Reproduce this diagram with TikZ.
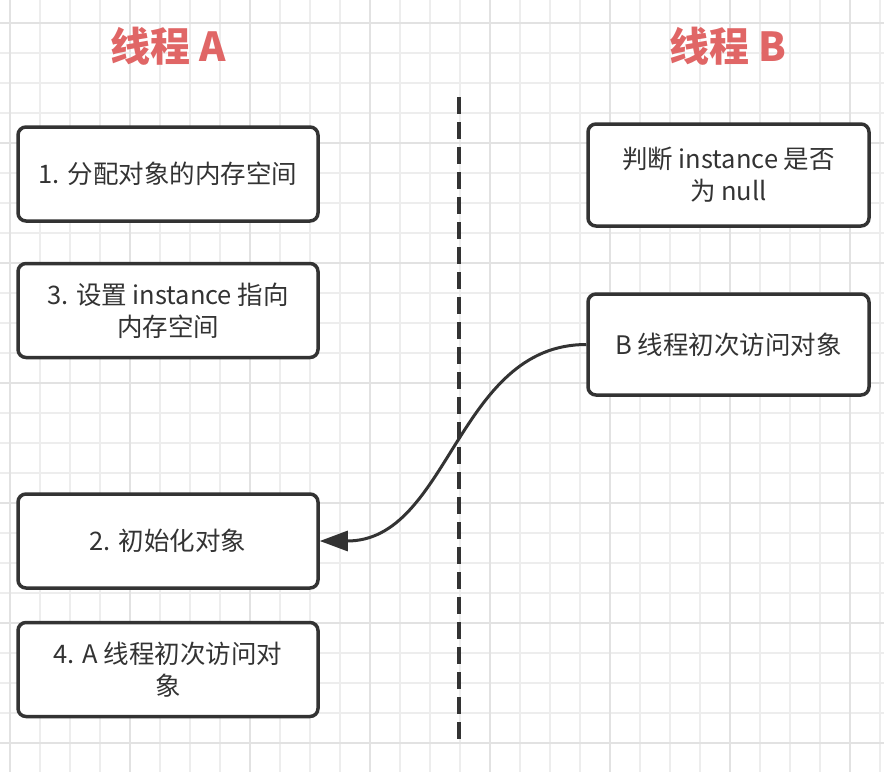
\documentclass[tikz,border=0pt]{standalone}
\usepackage{fontspec}
\setmainfont{Noto Sans CJK SC}
\usepackage{tikz}
\usetikzlibrary{arrows.meta,positioning}

\definecolor{inkgray}{HTML}{333333}
\definecolor{titlered}{HTML}{E06666}
\definecolor{gridminor}{HTML}{EDEDED}
\definecolor{gridmajor}{HTML}{E2E2E2}

\begin{document}
\begin{tikzpicture}[x=1pt, y=-1pt, node distance={560pt},
    main/.style = {draw=inkgray, line width=3.5pt, rounded corners=8pt, fill=white,
        minimum width=300pt, minimum height=94pt, align=center, text=inkgray,
        font=\fontsize{25.5}{32}\selectfont},
    title/.style = {text=titlered, font=\fontsize{40}{42}\selectfont\bfseries}]
            \useasboundingbox (0,0) rectangle (884,772);
            \fill[white] (0,0) rectangle (884,772);
            % background grid
            \foreach \gx in {10,40,...,880}
                \draw[gridminor, line width=1.5pt] (\gx,0) -- (\gx,772);
            \foreach \gy in {23,53,...,772}
                \draw[gridminor, line width=1.5pt] (0,\gy) -- (884,\gy);
            \foreach \gx in {10,130,...,880}
                \draw[gridmajor, line width=1.5pt] (\gx,0) -- (\gx,772);
            \foreach \gy in {23,143,...,772}
                \draw[gridmajor, line width=1.5pt] (0,\gy) -- (884,\gy);

            \node[title] (TA) at (168,46) {线程 A};
            \node[title] (TB) [right of=TA] {线程 B};
            \coordinate (D1) at (459,97);
            \coordinate (D2) at (459,745);
            \draw[inkgray, line width=3.5pt, dash pattern=on 17pt off 8pt] (D1) -- (D2);

            \node[main] (A1) at (168,174) {1. 分配对象的内存空间};
            \node[main] (A3) at (168,310.5) {3. 设置 instance 指向\\内存空间};
            \node[main] (A2) at (168,541) {2. 初始化对象};
            \node[main] (A4) at (168,669.5) {4. A 线程初次访问对\\象};
            \node[main, minimum width=281pt, minimum height=102pt] (B1) at (728.5,175) {判断 instance 是否\\为 null};
            \node[main, minimum width=281pt, minimum height=101pt] (B2) at (728.5,344.5) {B 线程初次访问对象};

            \draw[inkgray, line width=3pt, -{Triangle[length=28pt,width=20pt]}] (B2) to [out=180,in=0] (A2);
        \end{tikzpicture}
\end{document}
